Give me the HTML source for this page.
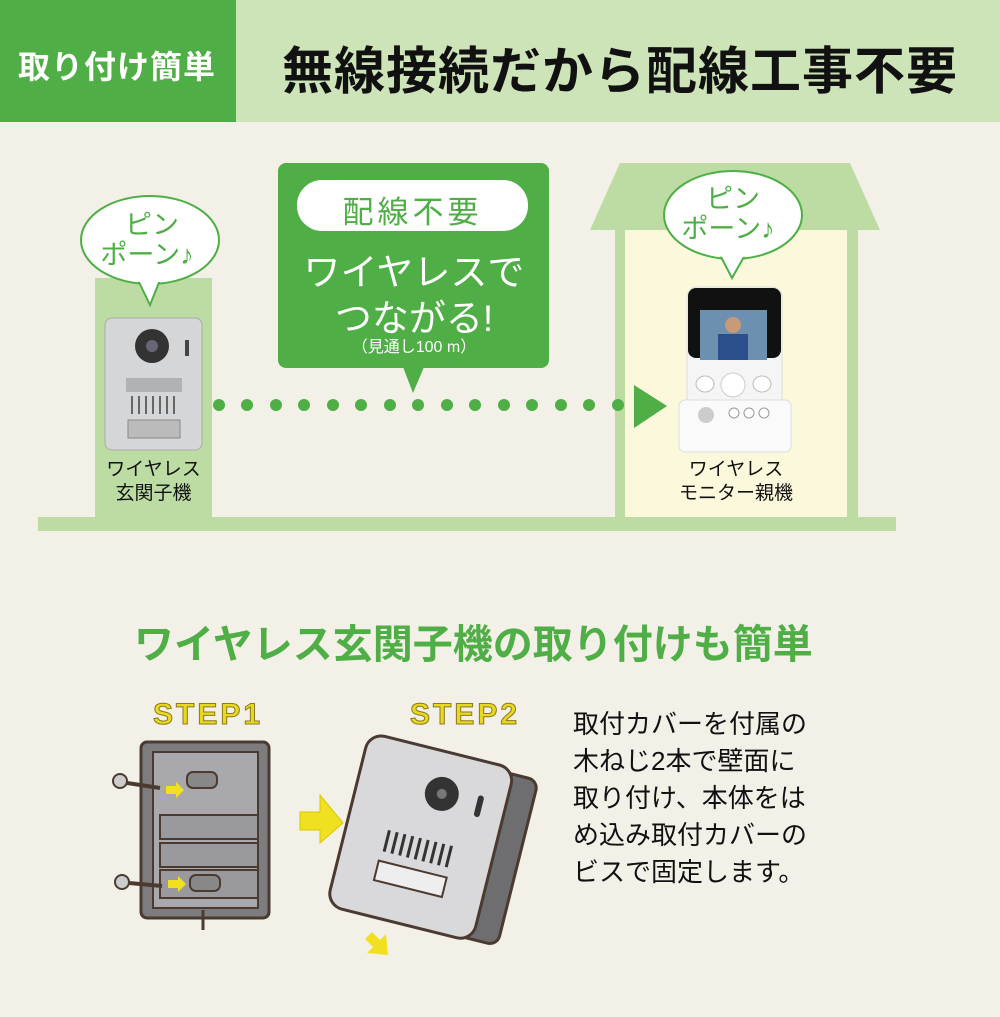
<!DOCTYPE html>
<html><head><meta charset="utf-8"><style>
*{margin:0;padding:0;box-sizing:border-box}
body{width:1000px;height:1017px;background:#f3f0e8;position:relative;overflow:hidden;font-family:"Liberation Sans","Noto Sans CJK JP",sans-serif}
.a{position:absolute}
.t{position:absolute;white-space:nowrap}
</style></head><body>
<div class="a" style="left:0;top:0;width:236px;height:122px;background:#4fae45"></div>
<div class="a" style="left:236px;top:0;width:764px;height:122px;background:#cde3b8"></div>
<div class="t" style="left:18px;top:42px;font-size:32px;color:#fff;font-weight:bold;letter-spacing:1px">取り付け簡単</div>
<div class="t" style="left:282px;top:30px;font-size:51px;color:#111;font-weight:bold;letter-spacing:1px">無線接続だから配線工事不要</div>

<svg class="a" style="left:0;top:0" width="1000" height="1017">
<polygon points="620,163 850,163 880,230 590,230" fill="#bcdca3"/>
<rect x="615" y="230" width="243" height="290" fill="#bcdca3"/>
<rect x="625" y="230" width="222" height="290" fill="#fbf8dc"/>
<rect x="95" y="278" width="117" height="242" fill="#bcdca3"/>
<rect x="38" y="517" width="858" height="14" fill="#bcdca3"/>
<ellipse cx="150" cy="240" rx="69" ry="44" fill="#fff" stroke="#4fae45" stroke-width="2"/>
<polygon points="138,280 150,305 160,280" fill="#fff" stroke="#4fae45" stroke-width="2"/>
<ellipse cx="150" cy="240" rx="67.5" ry="42.5" fill="#fff"/>
<ellipse cx="733" cy="215" rx="69" ry="44" fill="#fff" stroke="#4fae45" stroke-width="2"/>
<polygon points="720,255 732,278 745,255" fill="#fff" stroke="#4fae45" stroke-width="2"/>
<ellipse cx="733" cy="215" rx="67.5" ry="42.5" fill="#fff"/>
<rect x="278" y="163" width="271" height="205" rx="8" fill="#4fae45"/>
<polygon points="403,367 424,367 413,393" fill="#4fae45"/>
<rect x="297" y="180" width="231" height="51" rx="25" fill="#fff"/>
<g fill="#4fae45">
<circle cx="219" cy="405" r="6"/><circle cx="247" cy="405" r="6"/><circle cx="276" cy="405" r="6"/><circle cx="304" cy="405" r="6"/><circle cx="333" cy="405" r="6"/><circle cx="361" cy="405" r="6"/><circle cx="390" cy="405" r="6"/><circle cx="418" cy="405" r="6"/><circle cx="447" cy="405" r="6"/><circle cx="475" cy="405" r="6"/><circle cx="504" cy="405" r="6"/><circle cx="532" cy="405" r="6"/><circle cx="561" cy="405" r="6"/><circle cx="589" cy="405" r="6"/><circle cx="618" cy="405" r="6"/>
<polygon points="634,385 667,406 634,428"/>
</g>
<rect x="105" y="318" width="97" height="132" rx="7" fill="#d4d6d8" stroke="#aaa"/>
<circle cx="152" cy="346" r="17" fill="#333"/><circle cx="152" cy="346" r="6" fill="#667"/>
<rect x="185" y="340" width="4" height="16" fill="#444"/>
<rect x="126" y="378" width="56" height="14" fill="#b0b2b4"/>
<g stroke="#666" stroke-width="2"><line x1="132" y1="396" x2="132" y2="414"/><line x1="139" y1="396" x2="139" y2="414"/><line x1="146" y1="396" x2="146" y2="414"/><line x1="153" y1="396" x2="153" y2="414"/><line x1="160" y1="396" x2="160" y2="414"/><line x1="167" y1="396" x2="167" y2="414"/><line x1="174" y1="396" x2="174" y2="414"/></g>
<rect x="128" y="420" width="52" height="18" fill="#bbb" stroke="#888"/>
<rect x="687" y="287" width="95" height="120" rx="10" fill="#f5f5f5" stroke="#ddd"/>
<rect x="688" y="288" width="93" height="70" rx="8" fill="#111"/>
<rect x="700" y="310" width="67" height="50" fill="#6d8fb0"/>
<circle cx="733" cy="325" r="8" fill="#c89a7a"/><rect x="718" y="334" width="30" height="26" fill="#2a4f8a"/>
<circle cx="733" cy="385" r="12" fill="#fff" stroke="#ccc"/>
<ellipse cx="705" cy="384" rx="9" ry="8" fill="#fff" stroke="#bbb"/><ellipse cx="762" cy="384" rx="9" ry="8" fill="#fff" stroke="#bbb"/>
<rect x="679" y="400" width="112" height="52" rx="6" fill="#fafafa" stroke="#ddd"/>
<circle cx="706" cy="415" r="8" fill="#ccc"/>
<circle cx="734" cy="413" r="5" fill="#fff" stroke="#999"/><circle cx="749" cy="413" r="5" fill="#fff" stroke="#999"/><circle cx="764" cy="413" r="5" fill="#fff" stroke="#999"/>
<rect x="141" y="742" width="128" height="176" rx="6" fill="#7d7d80" stroke="#4a3a30" stroke-width="3"/>
<rect x="153" y="752" width="105" height="156" fill="#a9a9ad" stroke="#4a3a30" stroke-width="2"/>
<rect x="160" y="815" width="98" height="24" fill="#9a9a9e" stroke="#4a3a30" stroke-width="2"/>
<rect x="160" y="843" width="98" height="24" fill="#9a9a9e" stroke="#4a3a30" stroke-width="2"/>
<rect x="160" y="870" width="98" height="28" fill="#9a9a9e" stroke="#4a3a30" stroke-width="2"/>
<rect x="187" y="772" width="30" height="16" rx="6" fill="#888" stroke="#4a3a30" stroke-width="2"/>
<rect x="190" y="875" width="30" height="16" rx="6" fill="#888" stroke="#4a3a30" stroke-width="2"/>
<circle cx="120" cy="781" r="7" fill="#ccc" stroke="#4a3a30" stroke-width="2"/><line x1="127" y1="783" x2="160" y2="788" stroke="#4a3a30" stroke-width="4"/>
<circle cx="122" cy="882" r="7" fill="#ccc" stroke="#4a3a30" stroke-width="2"/><line x1="129" y1="883" x2="162" y2="886" stroke="#4a3a30" stroke-width="4"/>
<polygon points="166,786 176,786 176,782 184,790 176,798 176,794 166,794" fill="#f0e020"/>
<polygon points="168,880 178,880 178,876 186,884 178,892 178,888 168,888" fill="#f0e020"/>
<line x1="203" y1="910" x2="203" y2="930" stroke="#4a3a30" stroke-width="3"/>
<polygon points="300,812 320,812 320,795 343,823 320,843 320,830 300,830" fill="#f0e020" stroke="#d8c800"/>
<g transform="rotate(14 445 845)">
<rect x="400" y="760" width="120" height="170" rx="10" fill="#6e6e70" stroke="#4a3a30" stroke-width="3"/>
</g>
<g transform="rotate(14 420 840)">
<rect x="345" y="748" width="150" height="178" rx="16" fill="#d9d9db" stroke="#4a3a30" stroke-width="3"/>
<circle cx="430" cy="790" r="17" fill="#333"/><circle cx="430" cy="790" r="5" fill="#777"/>
<rect x="466" y="782" width="6" height="22" rx="3" fill="#333"/>
<g stroke="#333" stroke-width="3"><line x1="388" y1="838" x2="388" y2="860"/><line x1="396" y1="838" x2="396" y2="860"/><line x1="404" y1="838" x2="404" y2="860"/><line x1="412" y1="838" x2="412" y2="860"/><line x1="420" y1="838" x2="420" y2="860"/><line x1="428" y1="838" x2="428" y2="860"/><line x1="436" y1="838" x2="436" y2="860"/><line x1="444" y1="838" x2="444" y2="860"/><line x1="452" y1="838" x2="452" y2="860"/></g>
<rect x="385" y="870" width="70" height="20" fill="#eee" stroke="#4a3a30" stroke-width="2"/>
</g>
<polygon points="372,932 380,940 386,934 388,955 367,953 373,947 365,939" fill="#f0e020"/>
</svg>

<div class="t" style="left:107px;top:210px;font-size:27px;color:#4fae45;line-height:30px;text-align:center;width:90px">ピン<br><span style="margin-left:-10px">ポーン♪</span></div>
<div class="t" style="left:688px;top:184px;font-size:27px;color:#4fae45;line-height:30px;text-align:center;width:90px">ピン<br><span style="margin-left:-10px">ポーン♪</span></div>
<div class="t" style="left:297px;top:187px;width:231px;text-align:center;font-size:31px;color:#4fae45;letter-spacing:4px">配線不要</div>
<div class="t" style="left:280px;top:242px;width:268px;text-align:center;font-size:37px;color:#fff">ワイヤレスで</div>
<div class="t" style="left:280px;top:288px;width:268px;text-align:center;font-size:37px;color:#fff">つながる!</div>
<div class="t" style="left:280px;top:333px;width:268px;text-align:center;font-size:16px;color:#fff">（見通し100 m）</div>
<div class="t" style="left:95px;top:458px;width:117px;text-align:center;font-size:19px;line-height:24px;color:#111">ワイヤレス<br>玄関子機</div>
<div class="t" style="left:625px;top:458px;width:222px;text-align:center;font-size:19px;line-height:24px;color:#111">ワイヤレス<br>モニター親機</div>

<div class="t" style="left:134px;top:612px;font-size:40px;color:#4fae45;font-weight:bold">ワイヤレス玄関子機の取り付けも簡単</div>
<div class="t" style="left:153px;top:698px;font-size:30px;color:#e8d820;font-weight:bold;-webkit-text-stroke:1px #8a7a20;letter-spacing:3px">STEP1</div>
<div class="t" style="left:410px;top:698px;font-size:30px;color:#e8d820;font-weight:bold;-webkit-text-stroke:1px #8a7a20;letter-spacing:3px">STEP2</div>
<div class="t" style="left:573px;top:706px;font-size:26px;line-height:37px;color:#111">取付カバーを付属の<br>木ねじ2本で壁面に<br>取り付け、本体をは<br>め込み取付カバーの<br>ビスで固定します。</div>
</body></html>
